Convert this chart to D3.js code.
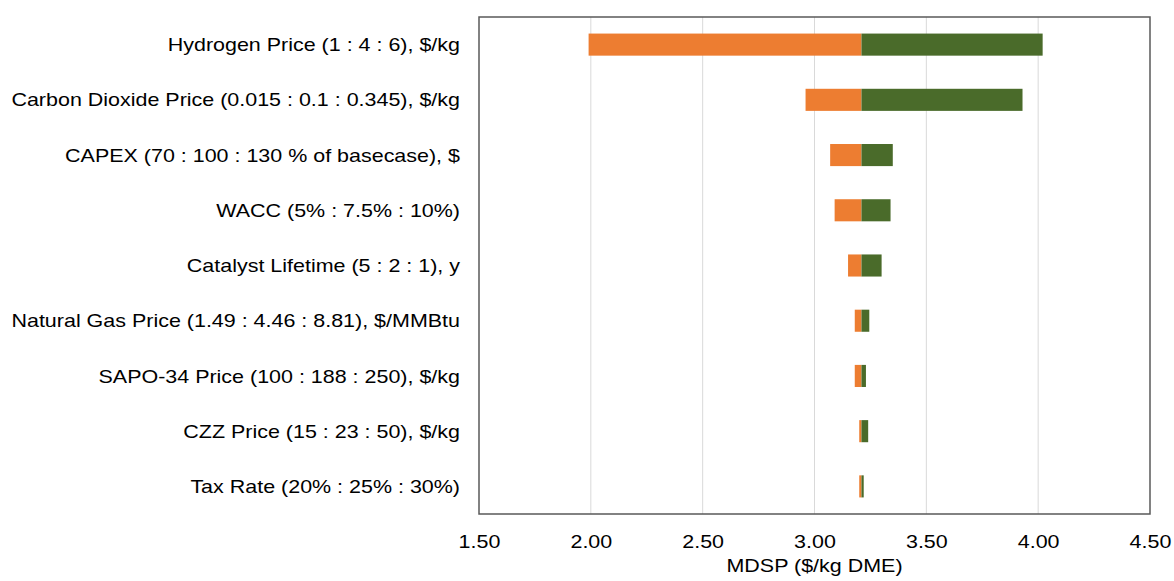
<html>
<head>
<meta charset="utf-8">
<title>Tornado chart</title>
<style>
  body { margin: 0; background: #fff; }
  text { font-family: "Liberation Sans", Arial, sans-serif; fill: #000; }
</style>
</head>
<body>
<script src="https://cdn.jsdelivr.net/npm/d3@7/dist/d3.min.js"></script>
<script>
    var width = 1174;
    var height = 581;
    var categories = [
        "Hydrogen Price (1 : 4 : 6), $/kg",
        "Carbon Dioxide Price (0.015 : 0.1 : 0.345), $/kg",
        "CAPEX (70 : 100 : 130 % of basecase), $",
        "WACC (5% : 7.5% : 10%)",
        "Catalyst Lifetime (5 : 2 : 1), y",
        "Natural Gas Price (1.49 : 4.46 : 8.81), $/MMBtu",
        "SAPO-34 Price (100 : 188 : 250), $/kg",
        "CZZ Price (15 : 23 : 50), $/kg",
        "Tax Rate (20% : 25% : 30%)"
    ];
    var baseValue = 3.21;
    var lowValues = [1.99, 2.96, 3.07, 3.09, 3.15, 3.18, 3.18, 3.20, 3.20];
    var highValues = [4.02, 3.93, 3.35, 3.34, 3.30, 3.245, 3.23, 3.24, 3.22];
    var xTicks = [1.5, 2.0, 2.5, 3.0, 3.5, 4.0, 4.5];

    var margin = {left: 479, top: 17, right: 24, bottom: 67};
    var plotW = width - margin.left - margin.right;
    var plotH = height - margin.top - margin.bottom;
    var fontSize = '19px';
    var stretch = 'scale(1.13,1)'; // the text in the original is a bit wide

    var svg = d3.select('body')
            .append('svg')
            .attr('width', width)
            .attr('height', height);
    var g = svg.append('g')
            .attr('transform', 'translate(' + margin.left + ',' + margin.top + ')');

    var x = d3.scaleLinear().domain([1.5, 4.5]).range([0, plotW]);
    var y = d3.scaleBand().domain(categories).range([0, plotH]).paddingInner(0.6).paddingOuter(0.3);

    // gridlines
    g.selectAll('.grid')
            .data(xTicks.slice(1, -1))
            .enter()
            .append('line')
            .attr('x1', function(d){ return x(d); })
            .attr('x2', function(d){ return x(d); })
            .attr('y1', 0)
            .attr('y2', plotH)
            .attr('stroke', '#d9d9d9')
            .attr('stroke-width', 1);

    var rows = categories.map(function(c, i){
        return {cat: c, low: lowValues[i], high: highValues[i]};
    });

    // low side (orange)
    g.selectAll('.low')
            .data(rows)
            .enter()
            .append('rect')
            .attr('x', function(d){ return x(Math.min(d.low, baseValue)); })
            .attr('width', function(d){ return Math.abs(x(baseValue) - x(d.low)); })
            .attr('y', function(d){ return y(d.cat); })
            .attr('height', y.bandwidth())
            .attr('fill', '#ed7d31');

    // high side (green)
    g.selectAll('.high')
            .data(rows)
            .enter()
            .append('rect')
            .attr('x', function(d){ return x(Math.min(d.high, baseValue)); })
            .attr('width', function(d){ return Math.abs(x(d.high) - x(baseValue)); })
            .attr('y', function(d){ return y(d.cat); })
            .attr('height', y.bandwidth())
            .attr('fill', '#4a6b2a');

    // plot frame
    g.append('rect')
            .attr('x', 0)
            .attr('y', 0)
            .attr('width', plotW)
            .attr('height', plotH)
            .attr('fill', 'none')
            .attr('stroke', '#595959')
            .attr('stroke-width', 1.5);

    // x axis
    var xAxis = d3.axisBottom(x)
            .tickValues(xTicks)
            .tickSize(0)
            .tickPadding(21)
            .tickFormat(d3.format('.2f'));
    var ax = g.append('g')
            .attr('transform', 'translate(0,' + plotH + ')')
            .call(xAxis);
    ax.select('.domain').remove();
    ax.selectAll('text')
            .style('font-size', fontSize)
            .style('font-family', '"Liberation Sans", Arial, sans-serif')
            .attr('fill', '#000')
            .attr('transform', stretch);

    // y labels
    g.selectAll('.lab')
            .data(categories)
            .enter()
            .append('g')
            .attr('transform', function(d){
                return 'translate(-19,' + (y(d) + y.bandwidth() / 2) + ')';
            })
            .append('text')
            .attr('transform', stretch)
            .attr('dy', '0.35em')
            .attr('text-anchor', 'end')
            .style('font-size', fontSize)
            .text(function(d){ return d; });

    // axis title
    svg.append('g')
            .attr('transform', 'translate(' + (margin.left + x(3.0)) + ',572)')
            .append('text')
            .attr('transform', stretch)
            .attr('text-anchor', 'middle')
            .style('font-size', fontSize)
            .text('MDSP ($/kg DME)');
</script>
</body>
</html>
